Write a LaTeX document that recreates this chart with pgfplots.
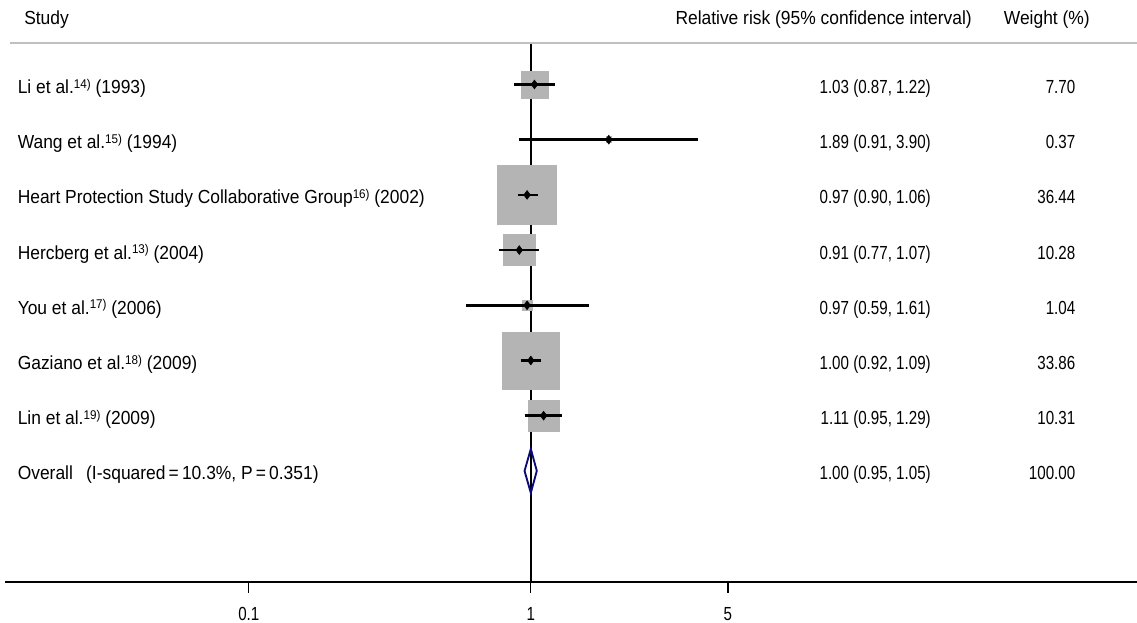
\documentclass[border=0pt]{standalone}
\usepackage{fontspec}
\setmainfont[FakeStretch=0.92]{Liberation Sans}
\newfontfamily\numfont[FakeStretch=0.8]{Liberation Sans}
\usepackage{pgfplots}
\usepackage{pgfplotstable}
\pgfplotsset{compat=1.18}
\definecolor{sqgray}{RGB}{180,180,180}
\definecolor{hdrgray}{RGB}{192,192,192}
\definecolor{ovnavy}{RGB}{10,10,120}
\newcommand\fs{\fontsize{14.2}{17}\selectfont}
\newcommand\sups[1]{\raisebox{4pt}{\fontsize{9.5}{11}\selectfont #1}}

\pgfplotstableread{
est   lo    hi    w      y
1.03  0.87  1.22  7.70   -84.5
1.89  0.91  3.90  0.37   -139.7
0.97  0.90  1.06  36.44  -194.9
0.91  0.77  1.07  10.28  -250.1
0.97  0.59  1.61  1.04   -305.3
1.00  0.92  1.09  33.86  -360.5
1.11  0.95  1.29  10.31  -415.7
}\studies

\begin{document}
\begin{tikzpicture}[font=\fs]
\begin{axis}[
  set layers=standard,
  at={(0,0)}, anchor=south west,
  scale only axis, width=849pt, height=404.25pt,
  xmode=log, xmin=0.01366, xmax=141.1,
  ymin=-582, ymax=-43,
  axis x line=bottom, axis y line=none,
  axis line style={line width=1.8pt, -},
  xtick={0.1,1,5}, xticklabels={0.1,1,5},
  xminorticks=false,
  tick align=outside, major tick length=8.25pt,
  tick style={line width=1pt, black},
  xticklabel style={font=\fs\numfont, anchor=base, yshift=-20.75pt},
  clip=false,
]
% reference line at RR = 1
\addplot[black, line width=1.5pt] coordinates {(1,-43) (1,-582)};
% weight squares
\addplot[scatter, only marks, mark=square*,
  scatter/use mapped color={draw=sqgray, fill=sqgray},
  visualization depends on={sqrt(\thisrow{w})*3.66 \as \ms},
  scatter/@pre marker code/.append style={/tikz/mark size=\ms pt, /tikz/line width=0pt}]
  table[x=est, y=y] {\studies};
% confidence intervals
\pgfplotsset{cistyle/.style={black, line width=2pt, on layer=axis foreground}}
\addplot[cistyle] coordinates {(0.87,-84.5) (1.22,-84.5)};
\addplot[cistyle] coordinates {(0.91,-139.7) (3.90,-139.7)};
\addplot[cistyle] coordinates {(0.90,-194.9) (1.06,-194.9)};
\addplot[cistyle] coordinates {(0.77,-250.1) (1.07,-250.1)};
\addplot[cistyle] coordinates {(0.59,-305.3) (1.61,-305.3)};
\addplot[cistyle] coordinates {(0.92,-360.5) (1.09,-360.5)};
\addplot[cistyle] coordinates {(0.95,-415.7) (1.29,-415.7)};
% point estimates
\addplot[only marks, mark=diamond*, mark size=3.3pt, black, on layer=axis foreground]
  table[x=est, y=y] {\studies};
% overall diamond
\addplot[ovnavy, line width=1.4pt, line join=miter]
  coordinates {(0.95,-470.9) (1,-448.9) (1.05,-470.9) (1,-492.9)} -- cycle;
\end{axis}
\begin{scope}[x=0.75pt, y=-0.75pt, xshift=-3.75pt, yshift=436.5pt]
\draw[hdrgray, line width=1.5pt] (10,43) -- (1137,43);
\node[anchor=base west, inner sep=0pt] at (24,25) {Study};
\node[anchor=base east, inner sep=0pt] at (972,25) {Relative risk (95\% confidence interval)};
\node[anchor=base east, inner sep=0pt] at (1090,25) {Weight (\%)};
% study labels
\foreach \yy/\lab/\ci/\wt in {
  93.5/{Li et al.\sups{14)} (1993)}/{1.03 (0.87, 1.22)}/7.70,
  148.7/{Wang et al.\sups{15)} (1994)}/{1.89 (0.91, 3.90)}/0.37,
  203.9/{Heart Protection Study Collaborative Group\sups{16)} (2002)}/{0.97 (0.90, 1.06)}/36.44,
  259.1/{Hercberg et al.\sups{13)} (2004)}/{0.91 (0.77, 1.07)}/10.28,
  314.3/{You et al.\sups{17)} (2006)}/{0.97 (0.59, 1.61)}/1.04,
  369.5/{Gaziano et al.\sups{18)} (2009)}/{1.00 (0.92, 1.09)}/33.86,
  424.7/{Lin et al.\sups{19)} (2009)}/{1.11 (0.95, 1.29)}/10.31,
  479.9/{Overall\hspace{0.7em}(I-squared\,=\,10.3\%, P\,=\,0.351)}/{1.00 (0.95, 1.05)}/100.00}{
  \node[anchor=base west, inner sep=0pt] at (17.5,\yy) {\lab};
  \node[anchor=base east, inner sep=0pt, font=\fs\numfont] at (931,\yy) {\ci};
  \node[anchor=base east, inner sep=0pt, font=\fs\numfont] at (1075.5,\yy) {\wt};
}
\pgfresetboundingbox
\path (0,0) rectangle (1137,623);
\end{scope}
\end{tikzpicture}
\end{document}
